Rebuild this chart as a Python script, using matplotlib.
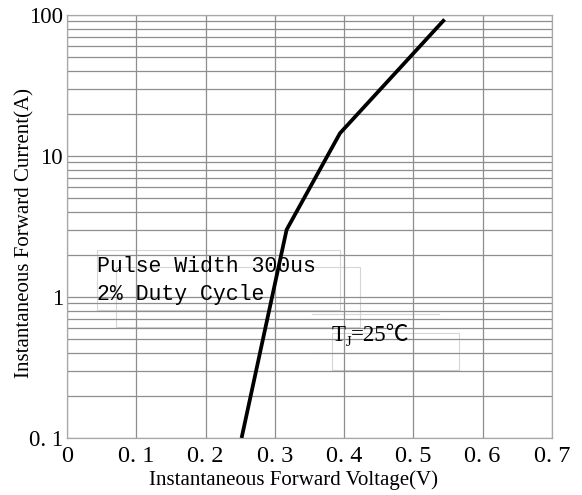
import matplotlib
matplotlib.use("Agg")
import matplotlib.pyplot as plt
from matplotlib.ticker import FixedLocator, LogLocator, NullFormatter

# Forward voltage / forward current curve
volt = [0.252, 0.317, 0.394, 0.545]
curr = [0.1, 3.0, 14.5, 93.0]

x_ticks = [0, 0.1, 0.2, 0.3, 0.4, 0.5, 0.6, 0.7]
x_labels = ['0', '0. 1', '0. 2', '0. 3', '0. 4', '0. 5', '0. 6', '0. 7']
y_ticks = [0.1, 1, 10, 100]
y_labels = ['0. 1', '1', '10', '100']

# faint leftover text-box outlines seen in the scanned original (axes fraction)
boxes = [
    (0.061, 0.303, 0.563, 0.444),
    (0.102, 0.262, 0.604, 0.404),
    (0.546, 0.161, 0.808, 0.249),
]
hlines = [(0.505, 0.767, 0.293), (0.505, 0.767, 0.202)]

serif = ['Liberation Serif', 'DejaVu Serif']

fig = plt.figure(figsize=(5.82, 4.95), dpi=100)
ax = fig.add_axes([0.1151, 0.1152, 0.8333, 0.8545])

ax.set_yscale('log')
ax.set_xlim(0, 0.7)
ax.set_ylim(0.1, 100)

ax.plot(volt, curr, color='black', linewidth=2.7, solid_capstyle='butt',
        solid_joinstyle='round', zorder=4)

ax.xaxis.set_major_locator(FixedLocator(x_ticks))
ax.set_xticklabels(x_labels, fontfamily=serif, fontsize=17.5)
ax.yaxis.set_major_locator(FixedLocator(y_ticks))
ax.yaxis.set_minor_locator(LogLocator(base=10, subs=range(2, 10)))
ax.yaxis.set_minor_formatter(NullFormatter())
ax.set_yticklabels(y_labels, fontfamily=serif, fontsize=16.5)
ax.tick_params(which='both', length=0)
ax.tick_params(axis='x', pad=6)
ax.tick_params(axis='y', pad=3)

ax.grid(True, which='major', color='#8e8e8e', linewidth=0.9)
ax.grid(True, which='minor', axis='y', color='#8e8e8e', linewidth=0.9)
for s in ax.spines.values():
    s.set_color('#a8a8a8')
    s.set_linewidth(0.9)

# faint box outlines
for x0, y0, x1, y1 in boxes:
    ax.plot([x0, x1, x1, x0, x0], [y0, y0, y1, y1, y0], transform=ax.transAxes,
            color='#d6d6d6', linewidth=0.8, zorder=1)
for x0, x1, y in hlines:
    ax.plot([x0, x1], [y, y], transform=ax.transAxes, color='#d6d6d6', linewidth=0.8, zorder=1)

ax.set_xlabel('Instantaneous Forward Voltage(V)', fontfamily=serif, fontsize=15)
ax.xaxis.set_label_coords(0.468, -0.076)
ax.set_ylabel('Instantaneous Forward Current(A)', fontfamily=serif, fontsize=15)
ax.yaxis.set_label_coords(-0.068, 0.485)

ax.text(0.043, 1.50, 'Pulse Width 300us', fontfamily='Liberation Mono',
        fontsize=15.5, va='baseline', ha='left', zorder=3)
ax.text(0.043, 0.95, '2% Duty Cycle', fontfamily='Liberation Mono',
        fontsize=15.5, va='baseline', ha='left', zorder=3)

# T_J=25℃ built from pieces so the ℃ glyph can come from a CJK font
t1 = ax.text(0.382, 0.49, 'T', fontfamily=serif, fontsize=16.5, va='baseline', ha='left')
t2 = ax.annotate('J', xy=(1, 0), xycoords=t1, xytext=(0, -2.5), textcoords='offset points',
                 fontfamily=serif, fontsize=10.5, va='bottom', ha='left')
ax.annotate('=25℃', xy=(1, 0), xycoords=(t2, t1), fontfamily=['Liberation Serif', 'Noto Sans CJK SC'],
            fontsize=16.5, va='bottom', ha='left')

fig.savefig('out.png', dpi=100)
